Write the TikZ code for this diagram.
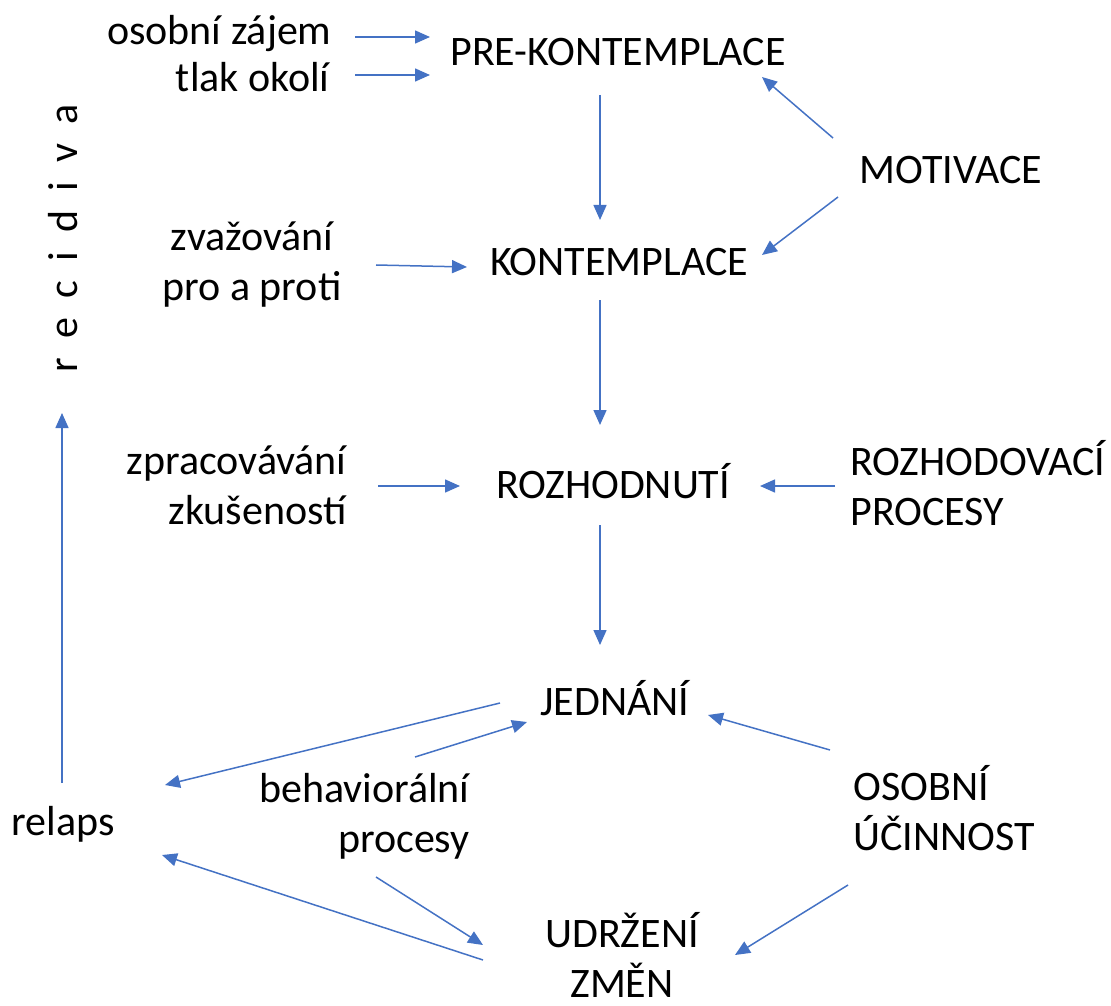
\documentclass[tikz,border=0pt]{standalone}
\usepackage{fontspec}
\setmainfont{Carlito}
\usepackage{tikz}
\usetikzlibrary{calc}
\usetikzlibrary{arrows.meta}

\definecolor{arrblue}{RGB}{68,114,196}
\newcommand{\figfont}{\fontsize{21pt}{25pt}\selectfont}

\begin{document}
\begin{tikzpicture}[x = 0.5pt, y = -0.5pt,
		every node/.style = {inner sep = 0pt, font = \figfont},
		arr/.style = {draw = arrblue, line width = 0.75pt, -{Triangle[length = 7.5pt, width = 6.5pt]}}]
		
		\useasboundingbox (0, 0) rectangle (1111, 1005);
		
		\node[anchor = east] (oz) at (332, 34) {osobní zájem};
		\node[anchor = east] (tlak) at (330, 77) {tlak okolí};
		\node (pre) at (618, 52) {PRE-KONTEMPLACE};
		\node (mot) at (951, 170) {MOTIVACE};
		\node[align = center] (zvaz) at (252, 265) {zvažování\\pro a proti};
		\node (kont) at (619, 262) {KONTEMPLACE};
		\node[anchor = east, align = right] (zprac) at (347, 485) {zpracovávání\\zkušeností};
		\node (rozh) at (613, 481) {ROZHODNUTÍ};
		\node[anchor = west, align = left] (rproc) at (850, 483) {ROZHODOVACÍ\\PROCESY};
		\node (jedn) at (615, 698) {JEDNÁNÍ};
		\node[anchor = east, align = right] (behav) at (470, 816) {behaviorální\\procesy};
		\node[anchor = west, align = left] (oscin) at (853, 808) {OSOBNÍ\\ÚČINNOST};
		\node[align = center] (udrz) at (622, 955) {UDRŽENÍ\\ZMĚN};
		\node (relaps) at (63, 824) {relaps};
		\node[rotate = 90] (recid) at (63, 238) {\spaceskip = 9.6pt r e c i d i v a};
		
		\draw[arr] ($(oz.east) + (23, 3)$) -- ($(pre) + (-188, -15)$);
		\draw[arr] ($(tlak.east) + (25, -2)$) -- ($(pre) + (-188, 23)$);
		\draw[arr] ($(pre) + (-18, 43)$) -- ($(kont) + (-19, -42)$);
		\draw[arr] ($(mot) + (-118, -32)$) -- ($(pre) + (144, 25)$);
		\draw[arr] ($(mot) + (-113, 27)$) -- ($(kont) + (143, -7)$);
		\draw[arr] ($(zvaz) + (124, 0)$) -- ($(kont) + (-152, 5)$);
		\draw[arr] ($(kont) + (-19, 38)$) -- ($(rozh) + (-13, -56)$);
		\draw[arr] ($(zprac.east) + (31, 1)$) -- ($(rozh) + (-153, 5)$);
		\draw[arr] ($(rproc.west) + (-15, 3)$) -- ($(rozh) + (147, 5)$);
		\draw[arr] ($(rozh) + (-13, 44)$) -- ($(jedn) + (-15, -53)$);
		\draw[arr] ($(oscin.west) + (-23, -58)$) -- ($(jedn) + (93, 17)$);
		\draw[arr] ($(oscin.west) + (-5, 77)$) -- ($(udrz) + (113, 0)$);
		\draw[arr] ($(jedn) + (-115, 5)$) -- ($(relaps) + (102, -39)$);
		\draw[arr] ($(behav.east) + (-55, -59)$) -- ($(jedn) + (-88, 24)$);
		\draw[arr] ($(behav.east) + (-94, 61)$) -- ($(udrz) + (-139, -10)$);
		\draw[arr] ($(udrz) + (-139, 5)$) -- ($(relaps) + (99, 31)$);
		\draw[arr] ($(relaps) + (-1, -41)$) -- ($(recid) + (-1, 175)$);
		
	\end{tikzpicture}
\end{document}
